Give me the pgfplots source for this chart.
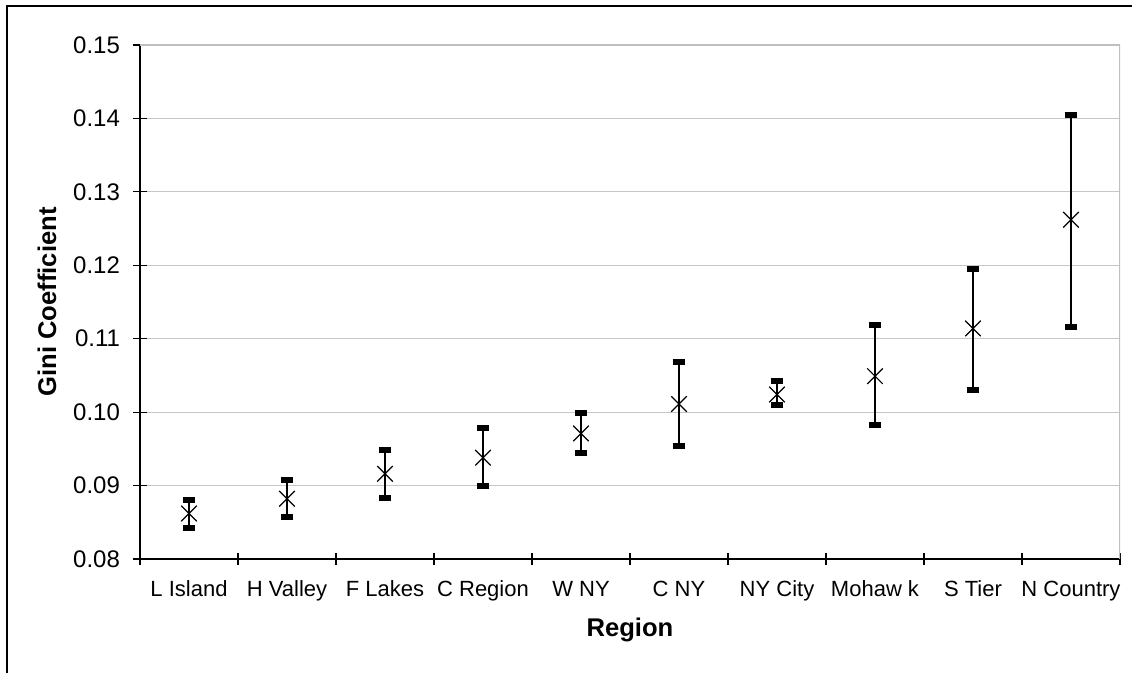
\documentclass[border=0pt]{standalone}
\usepackage{fontspec}
\setmainfont{Liberation Sans}
\usepackage{pgfplots}
\usepackage{pgfplotstable}
\pgfplotsset{compat=1.18}
\pgfplotstableread{
x y ep em
0 0.0862 0.0018 0.0020
1 0.0882 0.0026 0.0025
2 0.0916 0.0032 0.0033
3 0.0938 0.0041 0.0038
4 0.0971 0.0028 0.0027
5 0.1011 0.0057 0.0057
6 0.1024 0.0019 0.0014
7 0.1049 0.0070 0.0067
8 0.1114 0.0081 0.0084
9 0.1262 0.0142 0.0146
}\datatable
\begin{document}
\begin{tikzpicture}
\useasboundingbox (0,0) rectangle (566pt,336.5pt);
\draw[line width=0.8pt] (3.5pt,0) -- (3.5pt,333.5pt) -- (566pt,333.5pt);
\begin{axis}[
  at={(70pt,57pt)}, anchor=south west,
  scale only axis, width=490pt, height=257pt,
  xmin=-0.5, xmax=9.5, ymin=0.08, ymax=0.15,
  axis x line*=bottom, axis y line*=left,
  axis line style={black, line width=0.6pt},
  xtick={0,...,9},
  xticklabels={L Island, H Valley, F Lakes, C Region, W NY, C NY, NY City, Mohaw k, S Tier, N Country},
  major x tick style={draw=none},
  minor xtick={-0.5,0.5,...,9.5},
  minor x tick style={black, line width=0.6pt},
  ytick={0.08,0.09,...,0.15},
  yticklabels={0.08,0.09,0.10,0.11,0.12,0.13,0.14,0.15},
  major y tick style={black, line width=0.6pt},
  tick align=center,
  major tick length=7pt, minor tick length=6pt,
  ymajorgrids, grid style={gray!45, line width=0.5pt},
  xticklabel style={font=\fontsize{11}{13}\selectfont, yshift=-4pt},
  yticklabel style={font=\fontsize{12}{14}\selectfont, xshift=-3pt},
  /pgf/number format/assume math mode=true,
  xlabel={Region}, ylabel={Gini Coefficient},
  label style={font=\fontsize{12.8}{15}\selectfont\bfseries},
  xlabel style={at={(axis description cs:0.5,-0.138)}, anchor=center},
  ylabel style={at={(axis description cs:-0.095,0.5)}, anchor=center, rotate=0},
]
\draw[gray!50, line width=0.8pt] (rel axis cs:0,1) -- (rel axis cs:1,1) -- (rel axis cs:1,0);
\addplot[only marks, black, mark=x, mark size=5.5pt, mark options={line width=0.6pt},
  error bars/.cd, y dir=both, y explicit,
  error mark=-,
  error bar style={line width=1pt, black},
  error mark options={rotate=90, line width=3pt, mark size=3.2pt, black}]
  table[x=x, y=y, y error plus=ep, y error minus=em] {\datatable};
\end{axis}
\end{tikzpicture}
\end{document}
